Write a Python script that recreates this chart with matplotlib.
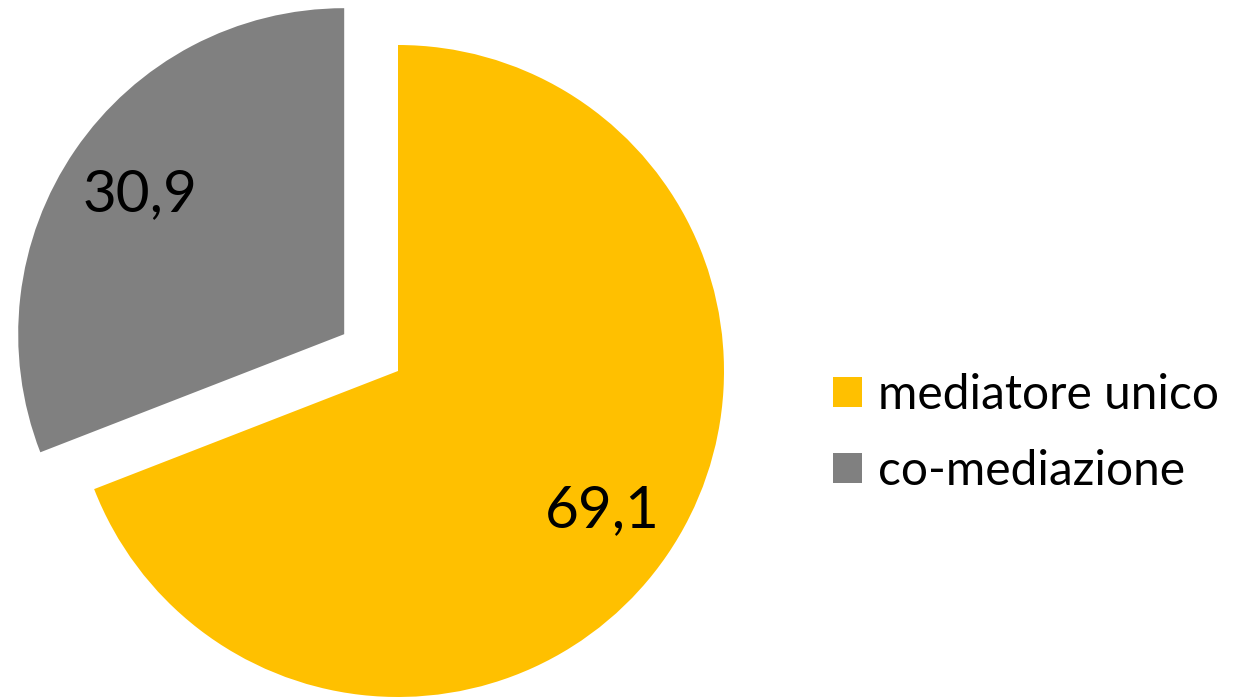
import matplotlib
matplotlib.use("Agg")
import matplotlib.pyplot as plt

labels = ["mediatore unico", "co-mediazione"]
values = [69.1, 30.9]
value_text = ["69,1", "30,9"]
colors = ["#FFC000", "#808080"]
explode = [0, 0.2]

W, H = 1242, 699
fig = plt.figure(figsize=(W / 100, H / 100), dpi=100)
ax = fig.add_axes([0, 0, 1, 1])

R = 326.0
cx, cy = 398.0, H - 371.0

wedges, texts = ax.pie(values, colors=colors, explode=explode, startangle=90,
                       counterclock=False, radius=1.0,
                       labels=value_text, labeldistance=0.76,
                       textprops=dict(fontsize=42, family="Lato", color="black",
                                      ha="center", va="center"),
                       wedgeprops=dict(linewidth=0))
for t in texts:
    t.set_ha("center")
    t.set_va("center")

ax.set_xlim(-cx / R, (W - cx) / R)
ax.set_ylim(-cy / R, (H - cy) / R)
ax.set_aspect("auto")
ax.axis("off")

fs = 34.5
fpx = fs * 100 / 72
leg = fig.legend(wedges, labels, loc="center left",
                 bbox_to_anchor=(833 / W, 1 - 433 / H),
                 frameon=False, prop=dict(family="Lato", size=fs),
                 handlelength=29 / fpx, handleheight=29 / fpx,
                 handletextpad=16 / fpx, labelspacing=(80 - fpx) / fpx,
                 borderpad=0, borderaxespad=0)

fig.savefig("out.png", dpi=100)
